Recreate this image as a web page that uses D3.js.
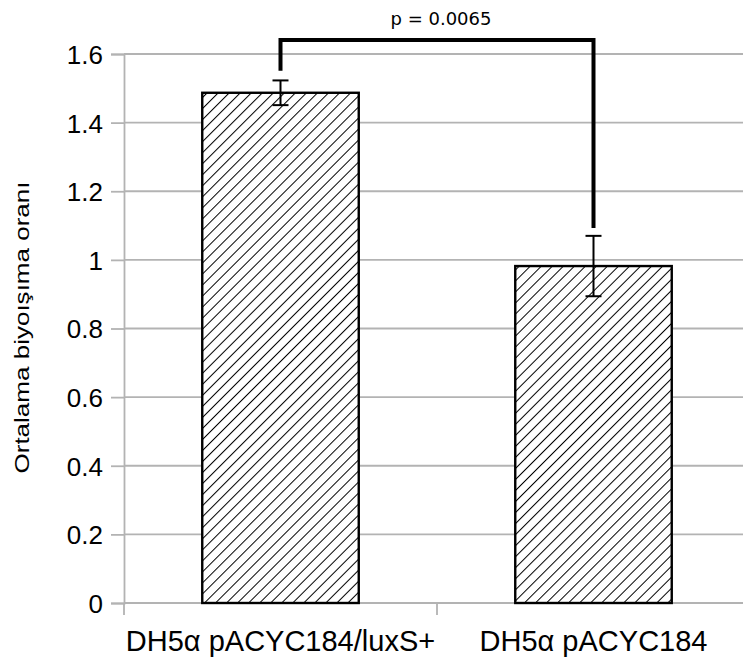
<!DOCTYPE html>
<html>
<head>
<meta charset="utf-8">
<script src="https://cdn.jsdelivr.net/npm/d3@7"></script>
<style>
  body { margin: 0; background: #fff; }
  svg { display: block; }
</style>
</head>
<body>
<svg id="chart"></svg>
<script>
// data
const categories = ["DH5α pACYC184/luxS+", "DH5α pACYC184"];
const means = [1.487, 0.982];
const errors = [0.036, 0.088];
const yTicks = [0, 0.2, 0.4, 0.6, 0.8, 1, 1.2, 1.4, 1.6];
const bracketLevels = [1.551, 1.641, 1.093]; // left end, top, right end
const pLabel = "p = 0.0065";

const W = 743, H = 660;
const margin = {top: 54, right: -7, bottom: 57, left: 124},
      width = W - margin.left - margin.right,
      height = H - margin.top - margin.bottom;

const svg = d3.select("#chart")
    .attr("width", W)
    .attr("height", H);

const defs = svg.append("defs");
const pat = defs.append("pattern")
    .attr("id", "hatch")
    .attr("patternUnits", "userSpaceOnUse")
    .attr("width", 7.8)
    .attr("height", 7.8)
    .attr("patternTransform", "rotate(45)");
pat.append("rect").attr("width", 7.8).attr("height", 7.8).attr("fill", "#fff");
pat.append("line")
    .attr("x1", 0).attr("y1", 0).attr("x2", 0).attr("y2", 7.8)
    .attr("stroke", "#000").attr("stroke-width", 2);

const g = svg.append("g")
    .attr("transform", `translate(${margin.left},${margin.top})`);

// Scales
const x = d3.scaleBand()
    .domain(categories)
    .range([0, width])
    .paddingInner(0.5)
    .paddingOuter(0.25);

const y = d3.scaleLinear()
    .domain([0, 1.6])
    .range([height, 0]);

// Gridlines
g.append("g")
    .selectAll("line")
    .data(yTicks)
    .join("line")
    .attr("x1", 0)
    .attr("x2", width)
    .attr("y1", d => y(d))
    .attr("y2", d => y(d))
    .attr("stroke", "#b3b3b3")
    .attr("stroke-width", 1.8);

// Y axis
const yAxis = g.append("g")
    .call(d3.axisLeft(y).tickValues(yTicks).tickSize(13).tickPadding(8)
        .tickFormat(d => d3.format("")(d)));
yAxis.select(".domain").attr("stroke", "#b3b3b3").attr("stroke-width", 1.8);
yAxis.selectAll(".tick line").attr("stroke", "#b3b3b3").attr("stroke-width", 1.8);
yAxis.selectAll("text")
    .attr("fill", "#000")
    .attr("dy", "0.36em")
    .style("font-family", "'Liberation Sans', Arial, sans-serif")
    .style("font-size", "26px");

// X axis (category boundaries)
const step = x.step();
const bounds = d3.range(categories.length + 1).map(i => i * step);
g.append("g")
    .selectAll("line")
    .data(bounds)
    .join("line")
    .attr("x1", d => d).attr("x2", d => d)
    .attr("y1", height).attr("y2", height + 12)
    .attr("stroke", "#b3b3b3")
    .attr("stroke-width", 1.8);

g.append("g")
    .selectAll("text")
    .data(categories)
    .join("text")
    .attr("x", d => x(d) + x.bandwidth() / 2)
    .attr("y", height + 48)
    .attr("text-anchor", "middle")
    .style("font-family", "'Liberation Sans', Arial, sans-serif")
    .style("font-size", "29px")
    .text(d => d);

// Bars
g.selectAll(".bar")
    .data(categories)
    .join("rect")
    .attr("class", "bar")
    .attr("x", d => x(d))
    .attr("width", x.bandwidth())
    .attr("y", (d, i) => y(means[i]))
    .attr("height", (d, i) => height - y(means[i]))
    .attr("fill", "url(#hatch)")
    .attr("stroke", "#000")
    .attr("stroke-width", 2.4);

// Error bars
const eb = g.selectAll(".err")
    .data(categories)
    .join("g")
    .attr("class", "err")
    .attr("stroke", "#000")
    .attr("stroke-width", 2);
eb.append("line")
    .attr("x1", d => x(d) + x.bandwidth() / 2)
    .attr("x2", d => x(d) + x.bandwidth() / 2)
    .attr("y1", (d, i) => y(means[i] + errors[i]))
    .attr("y2", (d, i) => y(means[i] - errors[i]));
[1, -1].forEach(s => {
    eb.append("line")
        .attr("x1", d => x(d) + x.bandwidth() / 2 - 8)
        .attr("x2", d => x(d) + x.bandwidth() / 2 + 8)
        .attr("y1", (d, i) => y(means[i] + s * errors[i]))
        .attr("y2", (d, i) => y(means[i] + s * errors[i]));
});

// Significance bracket
const cx0 = x(categories[0]) + x.bandwidth() / 2,
      cx1 = x(categories[1]) + x.bandwidth() / 2;
g.append("path")
    .attr("d", d3.line()([
        [cx0, y(bracketLevels[0])],
        [cx0, y(bracketLevels[1])],
        [cx1, y(bracketLevels[1])],
        [cx1, y(bracketLevels[2])]
    ]))
    .attr("fill", "none")
    .attr("stroke", "#000")
    .attr("stroke-width", 4);

g.append("text")
    .attr("x", (cx0 + cx1) / 2 + 4)
    .attr("y", y(bracketLevels[1]) - 15)
    .attr("text-anchor", "middle")
    .style("font-family", "'DejaVu Sans', sans-serif")
    .style("font-size", "18px")
    .text(pLabel);

// Y label
svg.append("text")
    .attr("transform", `translate(29,${margin.top + height / 2 - 1}) rotate(-90)`)
    .attr("text-anchor", "middle")
    .style("font-family", "'Liberation Sans', Arial, sans-serif")
    .style("font-size", "21px")
    .attr("textLength", 292)
    .attr("lengthAdjust", "spacingAndGlyphs")
    .text("Ortalama biyoışıma oranı");
</script>
</body>
</html>
